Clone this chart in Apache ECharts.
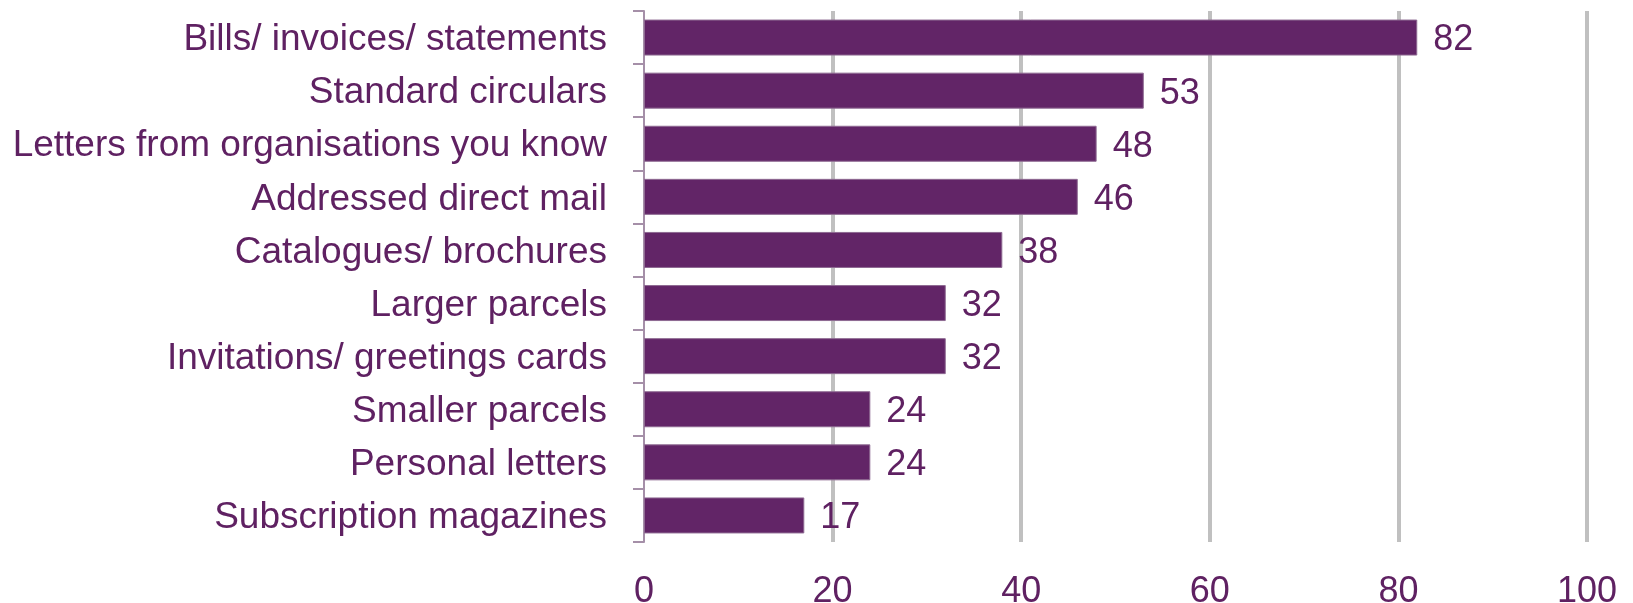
<!DOCTYPE html>
<html>
<head>
<meta charset="utf-8">
<script src="https://cdn.jsdelivr.net/npm/echarts@6/dist/echarts.min.js"></script>
<style>
  html, body { margin: 0; padding: 0; background: #ffffff; }
  #chart { width: 1633px; height: 603px; }
</style>
</head>
<body>
<div id="chart"></div>
<script>
// Mail item types, listed top to bottom
const categories = [
  'Bills/ invoices/ statements',
  'Standard circulars',
  'Letters from organisations you know',
  'Addressed direct mail',
  'Catalogues/ brochures',
  'Larger parcels',
  'Invitations/ greetings cards',
  'Smaller parcels',
  'Personal letters',
  'Subscription magazines'
];
const values = [82, 53, 48, 46, 38, 32, 32, 24, 24, 17];
const axisMin = 0;
const axisMax = 100;
const axisStep = 20;

const purple = '#622567';
const textPurple = '#5f2162';
const font = '"Liberation Sans", Arial, sans-serif';

const chart = echarts.init(document.getElementById('chart'), null, { renderer: 'canvas' });
chart.setOption({
  animation: false,
  grid: {
    left: 644, right: 46, top: 11, bottom: 61,
    containLabel: false,
    outerBoundsMode: 'none'
  },
  xAxis: {
    type: 'value',
    min: axisMin,
    max: axisMax,
    interval: axisStep,
    axisLine: { show: false },
    axisTick: { show: false },
    axisLabel: { color: textPurple, fontSize: 36, fontFamily: font, margin: 32 },
    splitLine: {
      show: true,
      lineStyle: {
        color: ['rgba(0,0,0,0)', '#c0c0c0', '#c0c0c0', '#c0c0c0', '#c0c0c0', '#c0c0c0'],
        width: 4
      }
    }
  },
  yAxis: {
    type: 'category',
    data: categories,
    inverse: true,
    axisLine: { show: true, lineStyle: { color: '#a58fa8', width: 2 } },
    axisTick: { show: true, length: 11, lineStyle: { color: '#a58fa8', width: 2 } },
    axisLabel: {
      color: textPurple, fontSize: 37, fontFamily: font, margin: 37,
      formatter: (v) => '{c|' + v + '}',
      rich: {
        c: { color: textPurple, fontSize: 37, fontFamily: font, padding: [5, 0, 0, 0] }
      }
    },
    splitLine: { show: false }
  },
  series: [{
    type: 'bar',
    data: values,
    barWidth: 36,
    itemStyle: { color: purple, borderColor: '#8e6a92', borderWidth: 1 },
    label: {
      show: true,
      position: 'right',
      distance: 16,
      offset: [0, 3],
      color: textPurple,
      fontSize: 36,
      fontFamily: font
    }
  }]
});
</script>
</body>
</html>
